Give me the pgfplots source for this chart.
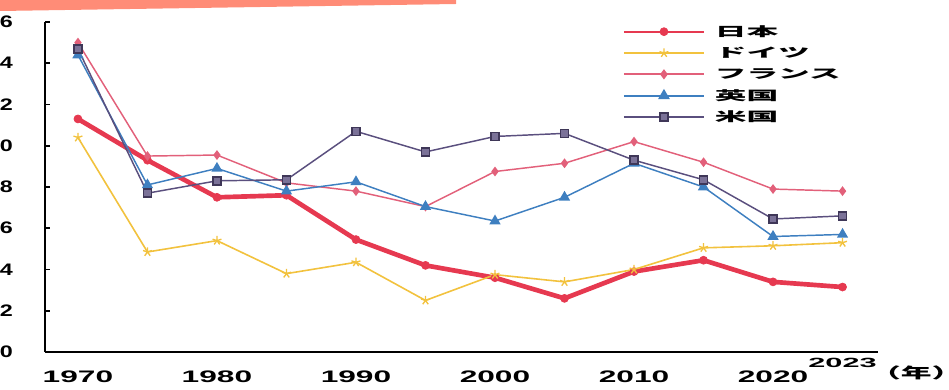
\documentclass[border=0pt]{standalone}
\usepackage{pgfplots}
\pgfplotsset{compat=1.18}
\usepackage{graphicx}
\usepackage{fontspec}
\setmainfont{Liberation Sans}
\newfontfamily\jp{Noto Sans CJK JP}

\definecolor{cJapan}{HTML}{E63950}
\definecolor{cGermany}{HTML}{F2C23E}
\definecolor{cFrance}{HTML}{E2607A}
\definecolor{cUK}{HTML}{3E7FC0}
\definecolor{cUS}{HTML}{5A4F7E}
\definecolor{band}{HTML}{FF8C77}

% wide tick digits
\newcommand\sx[1]{\scalebox{1.9}[1]{#1}}
\newcommand\sy[1]{\scalebox{1.4}[1]{#1}}
\newcommand\sxx[1]{\scalebox{2.3}[1]{#1}}
\newcommand\legtxt[1]{\scalebox{2.5}[1]{\jp\bfseries #1}}

\begin{document}
\begin{tikzpicture}
\begin{axis}[
  at={(0,0)}, anchor=south west,
  scale only axis, width=624.75pt, height=247.5pt,
  xmin=1967.63, xmax=2027.55, ymin=0, ymax=16,
  axis x line*=bottom, axis y line*=left,
  axis line style={line width=1.5pt, black},
  clip=false,
  tick align=inside, major tick length=3.75pt,
  ytick={0,2,...,16},
  yticklabels={\sy{0},\sy{2},\sy{4},\sy{6},\sy{8},\sy{10},\sy{12},\sy{14},\sy{16}},
  yticklabel style={font=\fontsize{12.5}{14}\selectfont\bfseries, anchor=east, inner sep=0pt, xshift=-24pt},
  ytick style={line width=1.2pt, black},
  xtick={1970,1980,...,2020},
  xticklabels={\sx{1970},\sx{1980},\sx{1990},\sx{2000},\sx{2010},\sx{2020}},
  xticklabel style={font=\fontsize{12.5}{14}\selectfont\bfseries, anchor=north, inner sep=0pt, yshift=-14.25pt},
  xtick style={draw=none},
  extra x ticks={2025},
  extra x tick labels={\sxx{2023}},
  extra x tick style={major tick length=0pt, xticklabel style={font=\fontsize{10}{12}\selectfont\bfseries, yshift=9.75pt}},
  legend cell align=left,
  legend style={at={(axis description cs:0.694,1.003)}, anchor=north west,
    draw=none, fill=none, inner sep=0pt, outer sep=0pt, row sep=0pt,
    font=\fontsize{9.5}{11}\selectfont,
    nodes={inner sep=0pt, minimum height=16pt},
    /tikz/every odd column/.append style={column sep=7.5pt}},
  legend image code/.code={\draw[mark repeat=2,mark phase=2] plot coordinates {(0pt,0pt) (30pt,0pt) (60pt,0pt)};},
  legend image post style={line width=1.3pt},
]
% Japan
\addplot[cJapan, line width=3.5pt, mark=*, mark size=3pt, mark options={solid, line width=0.5pt}] coordinates {
 (1970,11.3) (1975,9.3) (1980,7.5) (1985,7.6) (1990,5.45) (1995,4.2)
 (2000,3.6) (2005,2.6) (2010,3.9) (2015,4.45) (2020,3.4) (2025,3.15)};
\addlegendentry{\legtxt{日本}}
% Germany
\addplot[cGermany, line width=1.2pt, mark=star, mark size=3.5pt, mark options={line width=1pt}] coordinates {
 (1970,10.4) (1975,4.85) (1980,5.4) (1985,3.8) (1990,4.35) (1995,2.5)
 (2000,3.75) (2005,3.4) (2010,4.0) (2015,5.05) (2020,5.15) (2025,5.3)};
\addlegendentry{\legtxt{ドイツ}}
% France
\addplot[cFrance, line width=1.1pt, mark=diamond*, mark size=2.8pt] coordinates {
 (1970,15.0) (1975,9.5) (1980,9.55) (1985,8.2) (1990,7.8) (1995,7.05)
 (2000,8.75) (2005,9.15) (2010,10.2) (2015,9.2) (2020,7.9) (2025,7.8)};
\addlegendentry{\legtxt{フランス}}
% UK
\addplot[cUK, line width=1.1pt, mark=triangle*, mark size=3.8pt] coordinates {
 (1970,14.4) (1975,8.1) (1980,8.9) (1985,7.8) (1990,8.25) (1995,7.05)
 (2000,6.35) (2005,7.5) (2010,9.15) (2015,8.0) (2020,5.6) (2025,5.7)};
\addlegendentry{\legtxt{英国}}
% US
\addplot[cUS, line width=1.1pt, mark=square*, mark size=3pt, mark options={fill=cUS!80!white, draw=cUS!70!black}] coordinates {
 (1970,14.7) (1975,7.7) (1980,8.3) (1985,8.35) (1990,10.7) (1995,9.7)
 (2000,10.45) (2005,10.6) (2010,9.3) (2015,8.35) (2020,6.45) (2025,6.6)};
\addlegendentry{\legtxt{米国}}

\node[font=\fontsize{11}{13}\selectfont\bfseries] at (axis description cs:1.046,-0.0636) {\scalebox{2.1}[1]{\jp （年）}};
\end{axis}
% header band
\fill[band] (-33.75pt,264pt) -- (308.25pt,264pt) -- (308.25pt,261pt) -- (-33.75pt,255.75pt) -- cycle;
\pgfresetboundingbox
\path[use as bounding box] (-33.75pt,-27.75pt) rectangle (678pt,264pt);
\end{tikzpicture}
\end{document}
